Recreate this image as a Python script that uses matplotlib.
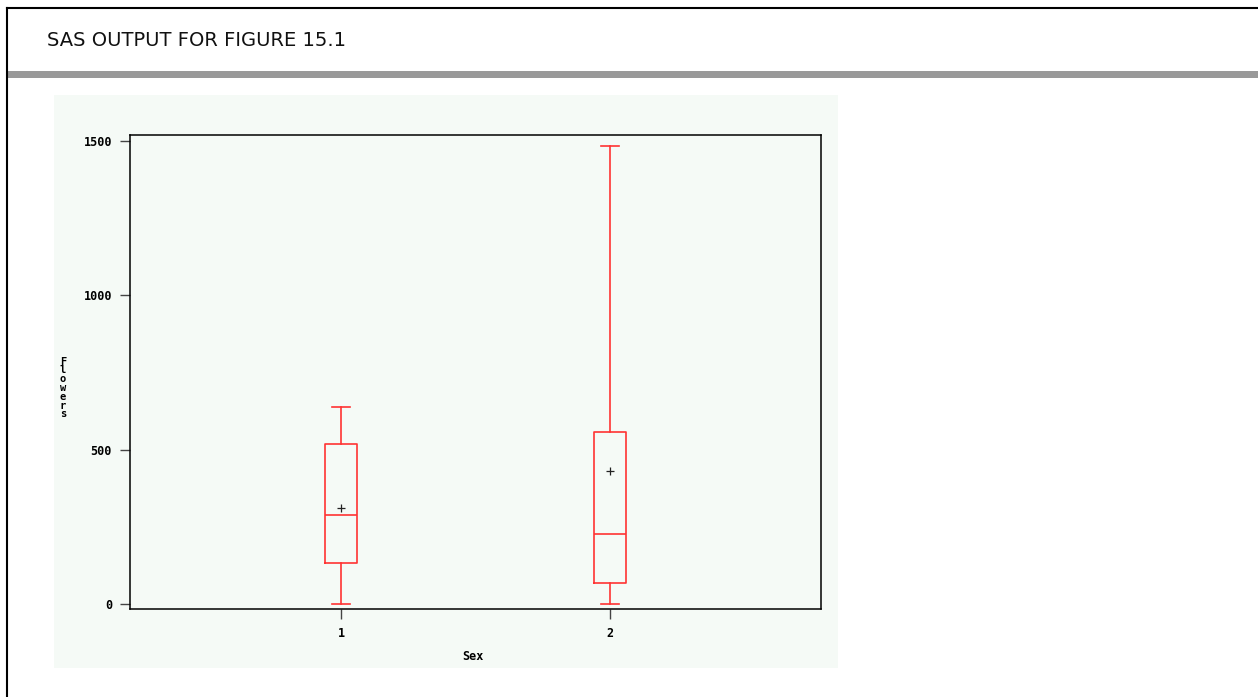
import matplotlib
matplotlib.use("Agg")
import matplotlib.pyplot as plt
from matplotlib.lines import Line2D
from matplotlib.patches import Rectangle

# box plot summary for each sex group
groups = ["1", "2"]
whisker_low = [0, 0]
q1 = [133, 68]
median = [288, 227]
q3 = [518, 557]
whisker_high = [638, 1484]
means = [311, 431]

yticks = [0, 500, 1000, 1500]

W, H = 1258, 697
fig = plt.figure(figsize=(W / 100, H / 100), dpi=100)
fig.patch.set_facecolor("white")

def px(x0, y0, x1, y1):
    # pixel box (top-left origin) -> figure fraction rect
    return [x0 / W, 1 - y1 / H, (x1 - x0) / W, (y1 - y0) / H]

# page frame, heading and grey rule
fig.add_artist(Line2D([7 / W, 1], [1 - 8 / H, 1 - 8 / H], color="black", lw=1.5))
fig.add_artist(Line2D([7 / W, 7 / W], [0, 1 - 8 / H], color="black", lw=1.5))
fig.add_artist(Rectangle((7 / W, 1 - 78 / H), 1, 7 / H, color="#999999", lw=0))
fig.text(47 / W, 1 - 40 / H, "SAS OUTPUT FOR FIGURE 15.1", fontsize=14,
         family="DejaVu Sans", va="center", ha="left", color="#111111")

# light panel behind the graph
fig.add_artist(Rectangle((54 / W, 1 - 668 / H), (838 - 54) / W, (668 - 95) / H,
                         color="#f5faf6", lw=0, zorder=-10))

ax = fig.add_axes(px(130, 135, 821, 609))
ax.set_facecolor("#f5faf6")

stats = []
for i, g in enumerate(groups):
    stats.append({
        "label": g,
        "whislo": whisker_low[i],
        "q1": q1[i],
        "med": median[i],
        "q3": q3[i],
        "whishi": whisker_high[i],
        "mean": means[i],
        "fliers": [],
    })

red = "#ff3333"
ax.bxp(stats, positions=[1, 2], widths=0.12, capwidths=0.064, showmeans=True,
       boxprops=dict(color=red, lw=1.2),
       whiskerprops=dict(color=red, lw=1.2),
       capprops=dict(color=red, lw=1.2),
       medianprops=dict(color=red, lw=1.2),
       meanprops=dict(marker="+", markeredgecolor="#222222", markersize=6, mew=0.9))

ax.set_xlim(0.216, 2.784)
ax.set_ylim(-16, 1519)
ax.set_yticks(yticks)
ax.set_yticklabels([str(t) for t in yticks])
ax.set_xticks([1, 2])
ax.set_xticklabels(groups)

for s in ax.spines.values():
    s.set_color("black")
    s.set_linewidth(1.1)

ax.tick_params(axis="both", direction="out", length=7, width=1, color="#444444",
               labelsize=8.5, pad=6)
for lab in ax.get_xticklabels() + ax.get_yticklabels():
    lab.set_family("DejaVu Sans Mono")
    lab.set_fontweight("bold")

fig.text(473 / W, 1 - 656 / H, "Sex", fontsize=8.5, family="DejaVu Sans Mono",
         fontweight="bold", ha="center", va="center")
fig.text(63 / W, 1 - 388 / H, "\n".join("Flowers"), fontsize=7.5,
         family="DejaVu Sans Mono", fontweight="bold", ha="center", va="center",
         linespacing=0.85)

fig.savefig("out.png", dpi=100, facecolor="white")
